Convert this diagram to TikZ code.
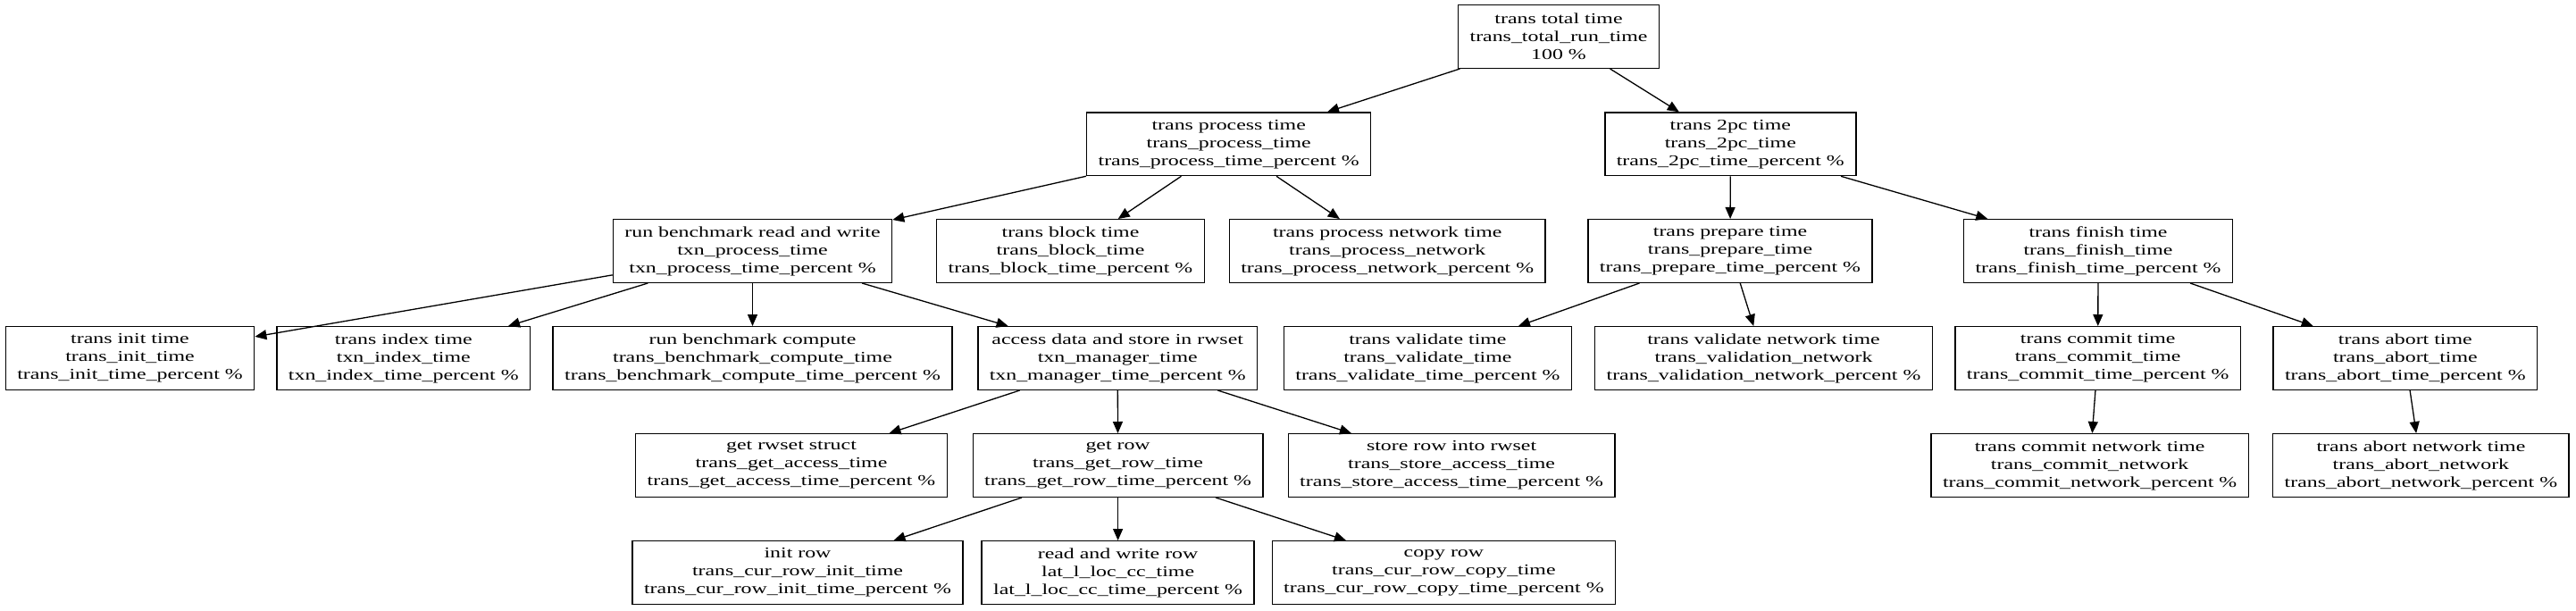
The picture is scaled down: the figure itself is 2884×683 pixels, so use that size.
\documentclass[tikz,border=0pt]{standalone}
\usepackage{fontspec}
\setmainfont[FakeStretch=1.42]{Liberation Serif}
\usetikzlibrary{arrows.meta}

\tikzset{
  stat/.style={draw,line width=1.4pt,rectangle,align=center,inner xsep=13pt,inner ysep=0pt,
    minimum height=70.6pt,font=\fontsize{16.8pt}{20pt}\selectfont},
  link/.style={-{Triangle[length=13pt,width=11pt]},line width=1.3pt},
}

\begin{document}
\begin{tikzpicture}[x=1pt,y=-1pt]
    \useasboundingbox (0,0) rectangle (2884,683);

    % top: total time
    \node[stat] (total) at (1745,41) {trans total time\\trans\_total\_run\_time\\100 \%};

    % process and 2pc
    \node[stat] (process) at (1375.7,161.3) {trans process time\\trans\_process\_time\\trans\_process\_time\_percent \%};
    \node[stat] (twopc) at (1937.3,161.3) {trans 2pc time\\trans\_2pc\_time\\trans\_2pc\_time\_percent \%};
    \draw[link] (total) to (process);
    \draw[link] (total) to (twopc);

    %%%%%%%%%%%%%%%%%%%%%%%%%%%%%%%%%%%%%%%%%%%%%%%%%%%%%%

    % process children
    \node[stat] (rw) at (842.5,281) {run benchmark read and write\\txn\_process\_time\\txn\_process\_time\_percent \%};
    \node[stat] (block) at (1198.5,281) {trans block time\\trans\_block\_time\\trans\_block\_time\_percent \%};
    \node[stat] (pnet) at (1553.2,281) {trans process network time\\trans\_process\_network\\trans\_process\_network\_percent \%};
    \draw[link] (process) to (rw);
    \draw[link] (process) to (block);
    \draw[link] (process) to (pnet);

    % 2pc children
    \node[stat] (prepare) at (1937,281) {trans prepare time\\trans\_prepare\_time\\trans\_prepare\_time\_percent \%};
    \node[stat] (finish) at (2349,281) {trans finish time\\trans\_finish\_time\\trans\_finish\_time\_percent \%};
    \draw[link] (twopc) to (prepare);
    \draw[link] (twopc) to (finish);

    %%%%%%%%%%%%%%%%%%%%%%%%%%%%%%%%%%%%%%%%%%%%%%%%%%%%%%

    % read and write children
    \node[stat] (init) at (145.5,401) {trans init time\\trans\_init\_time\\trans\_init\_time\_percent \%};
    \node[stat] (index) at (451.8,401) {trans index time\\txn\_index\_time\\txn\_index\_time\_percent \%};
    \node[stat] (compute) at (842.5,401) {run benchmark compute\\trans\_benchmark\_compute\_time\\trans\_benchmark\_compute\_time\_percent \%};
    \node[stat] (access) at (1251.2,401) {access data and store in rwset\\txn\_manager\_time\\txn\_manager\_time\_percent \%};
    \draw[link] (rw) to (init);
    \draw[link] (rw) to (index);
    \draw[link] (rw) to (compute);
    \draw[link] (rw) to (access);

    % prepare children
    \node[stat] (validate) at (1598.4,401) {trans validate time\\trans\_validate\_time\\trans\_validate\_time\_percent \%};
    \node[stat] (vnet) at (1974.5,401) {trans validate network time\\trans\_validation\_network\\trans\_validation\_network\_percent \%};
    \draw[link] (prepare) to (validate);
    \draw[link] (prepare) to (vnet);

    % finish children
    \node[stat] (commit) at (2348.7,401) {trans commit time\\trans\_commit\_time\\trans\_commit\_time\_percent \%};
    \node[stat] (abort) at (2692.8,401) {trans abort time\\trans\_abort\_time\\trans\_abort\_time\_percent \%};
    \draw[link] (finish) to (commit);
    \draw[link] (finish) to (abort);

    %%%%%%%%%%%%%%%%%%%%%%%%%%%%%%%%%%%%%%%%%%%%%%%%%%%%%%

    % access children
    \node[stat] (getrwset) at (886,521) {get rwset struct\\trans\_get\_access\_time\\trans\_get\_access\_time\_percent \%};
    \node[stat] (getrow) at (1251.6,521) {get row\\trans\_get\_row\_time\\trans\_get\_row\_time\_percent \%};
    \node[stat] (storerow) at (1625.1,521) {store row into rwset\\trans\_store\_access\_time\\trans\_store\_access\_time\_percent \%};
    \draw[link] (access) to (getrwset);
    \draw[link] (access) to (getrow);
    \draw[link] (access) to (storerow);

    % network parts of commit and abort
    \node[stat] (cnet) at (2339.6,521) {trans commit network time\\trans\_commit\_network\\trans\_commit\_network\_percent \%};
    \node[stat] (anet) at (2710.4,521) {trans abort network time\\trans\_abort\_network\\trans\_abort\_network\_percent \%};
    \draw[link] (commit) to (cnet);
    \draw[link] (abort) to (anet);

    %%%%%%%%%%%%%%%%%%%%%%%%%%%%%%%%%%%%%%%%%%%%%%%%%%%%%%

    % get row children
    \node[stat] (initrow) at (893,641) {init row\\trans\_cur\_row\_init\_time\\trans\_cur\_row\_init\_time\_percent \%};
    \node[stat] (rwrow) at (1251.6,641) {read and write row\\lat\_l\_loc\_cc\_time\\lat\_l\_loc\_cc\_time\_percent \%};
    \node[stat] (copyrow) at (1616.4,641) {copy row\\trans\_cur\_row\_copy\_time\\trans\_cur\_row\_copy\_time\_percent \%};
    \draw[link] (getrow) to (initrow);
    \draw[link] (getrow) to (rwrow);
    \draw[link] (getrow) to (copyrow);

\end{tikzpicture}
\end{document}
